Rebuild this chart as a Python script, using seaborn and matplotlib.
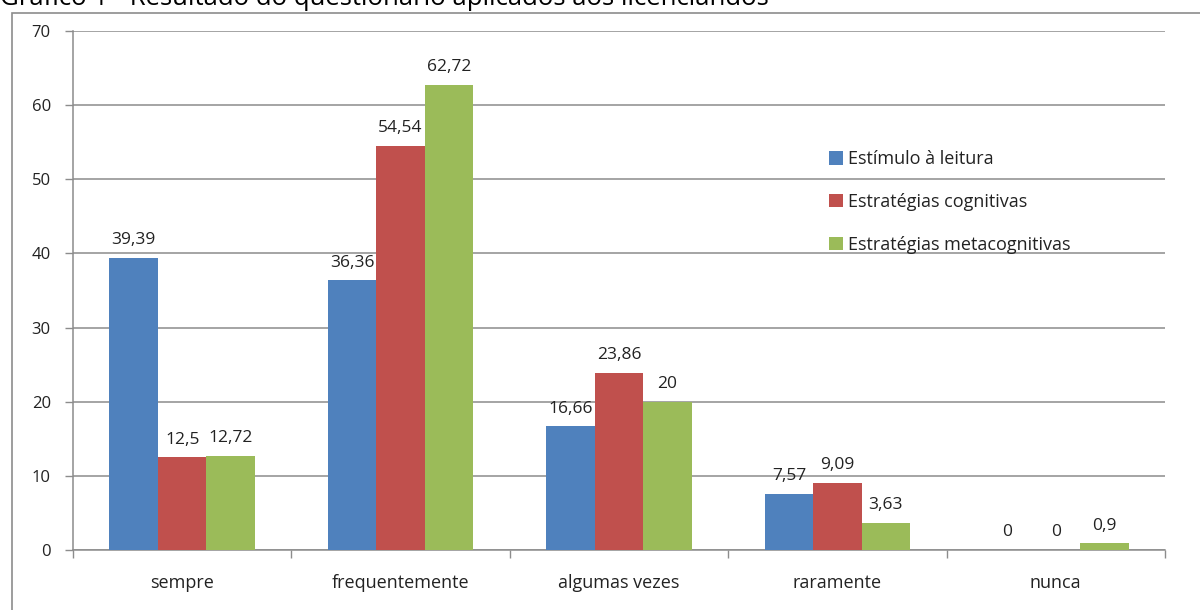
import matplotlib
matplotlib.use("Agg")
import matplotlib.pyplot as plt
import seaborn as sns
import pandas as pd
from matplotlib.patches import Rectangle

categories = ["sempre", "frequentemente", "algumas vezes", "raramente", "nunca"]
series_names = ["Estímulo à leitura", "Estratégias cognitivas", "Estratégias metacognitivas"]
estimulo = [39.39, 36.36, 16.66, 7.57, 0]
cognitivas = [12.5, 54.54, 23.86, 9.09, 0]
metacognitivas = [12.72, 62.72, 20, 3.63, 0.9]
labels_estimulo = ["39,39", "36,36", "16,66", "7,57", "0"]
labels_cognitivas = ["12,5", "54,54", "23,86", "9,09", "0"]
labels_metacognitivas = ["12,72", "62,72", "20", "3,63", "0,9"]
colors = ["#4F81BD", "#C0504D", "#9BBB59"]
y_ticks = [0, 10, 20, 30, 40, 50, 60, 70]

rows = []
for name, vals in zip(series_names, [estimulo, cognitivas, metacognitivas]):
    for c, v in zip(categories, vals):
        rows.append({"categoria": c, "serie": name, "valor": v})
df = pd.DataFrame(rows)

sns.set_theme(style="white")
plt.rcParams["font.family"] = ["Open Sans", "DejaVu Sans"]

fig = plt.figure(figsize=(12, 6.1), dpi=100)
ax = fig.add_axes([73 / 1200, 1 - 550 / 610, (1165 - 73) / 1200, (550 - 31) / 610])

sns.barplot(data=df, x="categoria", y="valor", hue="serie", order=categories,
            hue_order=series_names, palette=colors, width=0.666, saturation=1,
            ax=ax, zorder=3, linewidth=0)

for cont, labs in zip(ax.containers, [labels_estimulo, labels_cognitivas, labels_metacognitivas]):
    ax.bar_label(cont, labels=labs, padding=7, fontsize=12.5, color="#222222", zorder=4)

ax.set_ylim(0, 70)
ax.set_xlim(-0.5, len(categories) - 0.5)
ax.set_yticks(y_ticks)
ax.set_yticklabels([str(t) for t in y_ticks])
ax.yaxis.grid(True, color="#8C8C8C", linewidth=1.1, zorder=0)
ax.set_axisbelow(True)
ax.set_xlabel("")
ax.set_ylabel("")

for s in ["top", "right"]:
    ax.spines[s].set_visible(False)
for s in ["left", "bottom"]:
    ax.spines[s].set_color("#8C8C8C")
    ax.spines[s].set_linewidth(1.1)

ax.tick_params(axis="y", which="major", left=True, length=6, width=1, color="#8C8C8C",
               labelsize=12, labelcolor="#222222", pad=10)
ax.set_xticks(range(len(categories)))
ax.set_xticklabels(categories)
ax.tick_params(axis="x", which="major", bottom=False, labelsize=13, labelcolor="#222222", pad=11)
ax.set_xticks([i + 0.5 for i in range(-1, len(categories))], minor=True)
ax.tick_params(axis="x", which="minor", bottom=True, length=6, width=1, color="#8C8C8C")

leg = ax.legend(loc="upper left", bbox_to_anchor=((822 - 73) / (1165 - 73), 1 - (143 - 31) / (550 - 31)),
                frameon=False, fontsize=13, labelspacing=1.38, handlelength=0.75,
                handleheight=0.75, handletextpad=0.3, borderaxespad=0)
for t in leg.get_texts():
    t.set_color("#222222")

fig.patches.append(Rectangle((12 / 1200, -0.05), (1215 - 12) / 1200, 1.05 - 13 / 610,
                             transform=fig.transFigure, fill=False, edgecolor="#8C8C8C",
                             linewidth=1.2, zorder=0))
fig.text(0.0, 1 - 5 / 610, "Gráfico 1 - Resultado do questionário aplicados aos licenciandos",
         fontsize=18.5, va="baseline", ha="left", color="#000000")

fig.savefig("out.png", dpi=100)
